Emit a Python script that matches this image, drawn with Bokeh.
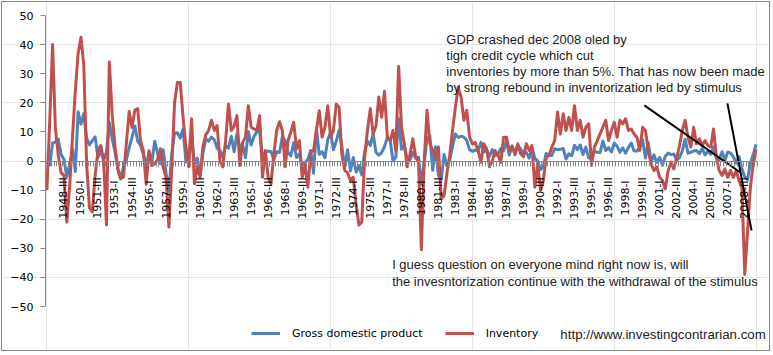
import math
from bokeh.plotting import figure
from bokeh.models import (Range1d, LinearAxis, FixedTicker, Legend, LegendItem,
                          Label, ColumnDataSource, CustomJSTickFormatter)
from bokeh.core.properties import value
from bokeh.embed import file_html
from bokeh.resources import INLINE

# ---------------- data ----------------
# Gross domestic product, % change (one value per quarter)
gdp = [
    -0.5, -1.4, 6.2,
    6.5, 7.5, 2.2, 0.6,
    -5.4, -1.3, 4.3, -3.6,
    16.9, 12.7, 16.3, 7.9,
    5.5, 7.0, 8.3, 1.1,
    3.7, 0.2, 3.2, 13.3,
    7.7, 3.1, -2.4, -6.2,
    -1.9, 0.4, 4.6, 8.1,
    12.0, 6.8, 5.4, 2.3,
    -1.6, 3.1, -0.3, 6.8,
    2.6, -0.9, 3.9, -4.1,
    -10.4, 2.5, 9.6, 9.7,
    7.9, 11.0, -0.3, 1.5,
    9.2, -1.5, 1.0, -5.0,
    2.7, 7.6, 6.8, 8.2,
    7.3, 4.4, 3.7, 1.3,
    5.3, 4.4, 8.5, 3.2,
    9.4, 4.7, 5.6, 1.1,
    10.1, 5.5, 8.4, 10.0,
    10.3, 1.3, 2.9, 3.4,
    3.2, 0.4, 3.2, 2.9,
    8.3, 7.0, 2.9, 1.8,
    6.3, 1.2, 2.5, -2.0,
    -0.6, 0.6, 3.6, -4.2,
    11.3, 2.3, 3.2, 1.1,
    7.3, 9.8, 3.9, 6.8,
    10.6, 4.7, -2.1, 3.9,
    -3.4, 1.2, -3.8, -1.6,
    -4.8, 3.1, 6.9, 5.3,
    9.4, 3.0, 2.0, 2.9,
    4.9, 8.1, 7.3, 0.0,
    1.3, 14.5, 4.0, 5.5,
    0.7, 0.4, 3.0, 1.0,
    1.3, -7.9, -0.7, 7.6,
    8.6, -3.2, 4.9, -4.9,
    -6.4, 2.2, -1.5, 0.3,
    5.1, 9.3, 8.1, 8.5,
    8.2, 7.1, 3.9, 3.3,
    3.8, 3.4, 6.4, 3.1,
    3.9, 1.6, 3.9, 1.9,
    2.2, 4.3, 3.5, 7.0,
    2.1, 5.2, 2.1, 5.4,
    4.1, 2.6, 2.9, 1.0,
    4.7, 1.0, 0.0, -3.0,
    -2.0, 2.6, 2.0, 1.9,
    4.2, 3.9, 4.0, 4.3,
    0.7, 2.5, 1.8, 5.4,
    3.9, 5.5, 2.2, 4.8,
    1.1, 0.7, 3.3, 3.0,
    2.9, 6.8, 3.6, 4.6,
    3.1, 6.2, 5.1, 3.0,
    4.5, 2.7, 4.7, 6.2,
    3.4, 3.4, 4.8, 7.3,
    1.0, 6.4, -0.5, 2.1,
    -0.5, 1.2, -1.4, 1.6,
    2.7, 2.2, 2.4, 0.2,
    1.2, 3.5, 7.5, 2.7,
    3.0, 3.5, 3.6, 2.5,
    4.3, 2.1, 3.4, 2.3,
    4.9, 1.2, 0.4, 3.2,
    0.2, 3.1, 2.7, 1.4,
    -0.7, 1.5, -2.7, -5.4,
    -6.4, -0.7, 2.2, 5.7,
]

# Inventory, % change (one value per quarter)
inventory = [
    -10, 14, 40, 11,
    2, -4, -5, -21,
    -9, 8, 24, 37,
    42.5, 33, -1, -16,
    -17.5, -5, 3.6, 5.3,
    0, -22, 34, 16,
    5, -3, -6, -5.5,
    6, 17, 11.5, 17.5,
    18, 7, 3.5, -8,
    3.5, -1.5, -1, 0.5,
    4.2, -2, -5.6, -22.7,
    -3, 20, 27, 27,
    15, 4.8, -2, 14.5,
    -7.8, -2, -5.6, 5,
    9, 10.5, 14, 10.5,
    12.2, 0, -2, 7,
    19.6, 10.5, 12, 15.6,
    -1.5, 6.4, 8.2, 19,
    11.6, 11, 10.5, 15.6,
    -5.6, 3.6, -5.6, -7.8,
    2.5, 10.5, 13.5, 10.5,
    -2, 7, 10, 13.3,
    4.2, 7, -5.6, -1.5,
    -9, 3, 3.6, 10.5,
    17.3, 8.2, 11.6, 19,
    8.2, 10.5, 19.6, 18.5,
    2, -3.3, -4, -6.7,
    -5.6, -15, -22, -21,
    1.3, 10.5, 18, 9.3,
    12, 22, 15, 24,
    8.2, 7, 10.5, 3.6,
    32.5, 11.6, 5.9, -2,
    2.5, 7.6, 1.3, -0.4,
    -30.5, 0, 17.4, 6,
    3.6, 1.3, 4.8, -13,
    -12, -4.4, 2, 10.5,
    18.5, 25.4, 22, 14,
    17.4, 8.2, 5.9, 6.4,
    3.6, -0.4, 5.9, 4.2,
    -2, 0, 3.6, 1.9,
    -0.4, 8.2, 8.2, 3.6,
    5, 2.5, 5.9, 2.5,
    1.5, 5.9, 3.6, 5.3,
    -9, -1, -10, -6.7,
    1.3, 1.9, 4.8, 7,
    16.8, 9.3, 16.2, 10.5,
    15, 10.5, 19, 10.5,
    14, 8.2, 11.6, 12.8,
    -1.5, 4.8, 7, 9.3,
    11.6, 14, 7, 10.5,
    13.3, 8.2, 14, 12.8,
    14.5, 10.5, 11, 9.3,
    8.2, 3.6, 11.6, 10.5,
    3.6, -1, -3.3, -2,
    -5.6, -6.7, -9.6, -3.3,
    -0.4, -2.7, 1, 5.3,
    10.5, 14, 8.2, 4.8,
    11.6, 5.9, 7.6, 5.3,
    7, 5.3, 4.8, 11,
    1.3, -3.3, -5, -2.7,
    -5.6, -3.3, -5.6, -3.3,
    -6.7, -9, -39, -24,
    -9, -1, 4,
]

# category axis: quarters, labelled every 6th quarter
quarter_names = ["I", "II", "III", "IV"]
first_year = 1947
n = len(gdp)
categories = [f"{first_year + i // 4}-{quarter_names[i % 4]}" for i in range(n)]
label_index = list(range(6, n, 6))
label_text = [categories[i] for i in label_index]

y_min, y_max = -50, 50
y_ticks = list(range(y_min, y_max + 1, 10))

# annotations (text notes and the two pointer lines)
note1_lines = ["GDP crashed dec 2008 oled by",
               "tigh credit cycle which cut",
               "inventories by more than 5%. That has now been made",
               "by strong rebound in inventorization led by stimulus"]
note1_x = 140.8
note1_y = [41.6, 36.1, 30.6, 25.1]
note2_lines = ["I guess question on everyone mind right now is, will",
               "the invesntorization continue with the withdrawal of the stimulus"]
note2_x = 121.7
note2_y = [-35.6, -41.3]
pointer_x0 = [210.6, 239.9]
pointer_y0 = [19.1, 19.8]
pointer_x1 = [244.5, 248.4]
pointer_y1 = [-3.95, -23.9]
url_text = "http://www.investingcontrarian.com"

# ---------------- layout geometry (canvas pixels) ----------------
CANVAS_W, CANVAS_H = 769, 350
AREA_L, AREA_R, AREA_T, AREA_B = 43, 755, 13, 304
ppx = (AREA_R - AREA_L) / n
ppy = (AREA_B - AREA_T) / (y_max - y_min)
x_start = -0.5 - AREA_L / ppx
x_end = -0.5 + (CANVAS_W - AREA_L) / ppx
y_top = y_max + AREA_T / ppy
y_bottom = y_min - (CANVAS_H - AREA_B) / ppy

BLUE = "#4F81BD"
RED = "#C0504D"
AXIS = "#868686"
TICK_FONT = "DejaVu Sans"
NOTE_FONT = "Liberation Sans"
NOTE_SIZE = "13px"

p = figure(width=CANVAS_W, height=CANVAS_H,
           x_range=Range1d(x_start, x_end), y_range=Range1d(y_bottom, y_top),
           x_axis_location=None, y_axis_location=None,
           output_backend="svg", toolbar_location=None,
           min_border=0)
p.styles = {"border": f"1px solid {AXIS}", "margin": "1px 0 0 1px"}
p.outline_line_color = None
p.background_fill_color = "white"
p.border_fill_color = "white"

# value axis at the left edge of the plot area
yax = LinearAxis(fixed_location=-0.5, bounds=(y_min, y_max),
                 ticker=FixedTicker(ticks=y_ticks),
                 axis_line_color=AXIS, major_tick_line_color=AXIS,
                 minor_tick_line_color=None,
                 major_tick_out=5, major_tick_in=0, major_label_standoff=7,
                 major_label_text_font=TICK_FONT,
                 major_label_text_font_size="11px",
                 major_label_text_color="black")
p.add_layout(yax, "left")

src = ColumnDataSource(dict(x=list(range(n)), gdp=gdp, inv=inventory))
r_gdp = p.line("x", "gdp", source=src, color=BLUE, line_width=3, line_join="round")
r_inv = p.line("x", "inv", source=src, color=RED, line_width=3, line_join="round")

# category axis crossing at zero (tick marks only; labels drawn below)
xax = LinearAxis(fixed_location=0, bounds=(-0.5, n - 0.5),
                 ticker=FixedTicker(ticks=[i - 0.5 for i in range(n + 1)]),
                 formatter=CustomJSTickFormatter(code="return ''"),
                 major_label_text_color=None,
                 axis_line_color=AXIS, major_tick_line_color=AXIS,
                 minor_tick_line_color=None,
                 major_tick_out=5, major_tick_in=0)
p.add_layout(xax, "below")

lab_src = ColumnDataSource(dict(x=label_index, y=[0] * len(label_index), t=label_text))
p.text(x="x", y="y", text="t", source=lab_src, angle=math.pi / 2,
       text_align="center", text_baseline="middle", y_offset=37,
       text_font=value(TICK_FONT), text_font_size="11px", text_color="black")

# pointer lines
p.segment(x0=pointer_x0, y0=pointer_y0, x1=pointer_x1, y1=pointer_y1,
          line_color="black", line_width=2)

for t, yy in zip(note1_lines, note1_y):
    p.add_layout(Label(x=note1_x, y=yy, text=t, text_font=NOTE_FONT,
                       text_font_size=NOTE_SIZE, text_color="#222222",
                       text_baseline="middle"))
for t, yy in zip(note2_lines, note2_y):
    p.add_layout(Label(x=note2_x, y=yy, text=t, text_font=NOTE_FONT,
                       text_font_size=NOTE_SIZE, text_color="#222222",
                       text_baseline="middle"))
p.add_layout(Label(x=181.0, y=-59.6, text=url_text, text_font=NOTE_FONT,
                   text_font_size="13.3px", text_color="#222222",
                   text_baseline="middle"))

legend = Legend(items=[LegendItem(label="Gross domestic product", renderers=[r_gdp]),
                       LegendItem(label="Inventory", renderers=[r_inv])],
                orientation="horizontal", location=(249, 11),
                glyph_width=29, glyph_height=16, label_height=16,
                label_standoff=12, spacing=22, padding=0, margin=0,
                border_line_alpha=0, background_fill_alpha=0,
                label_text_font=TICK_FONT, label_text_font_size="11px",
                label_text_color="black")
p.add_layout(legend)

open("out.html", "w").write(file_html(p, INLINE))
